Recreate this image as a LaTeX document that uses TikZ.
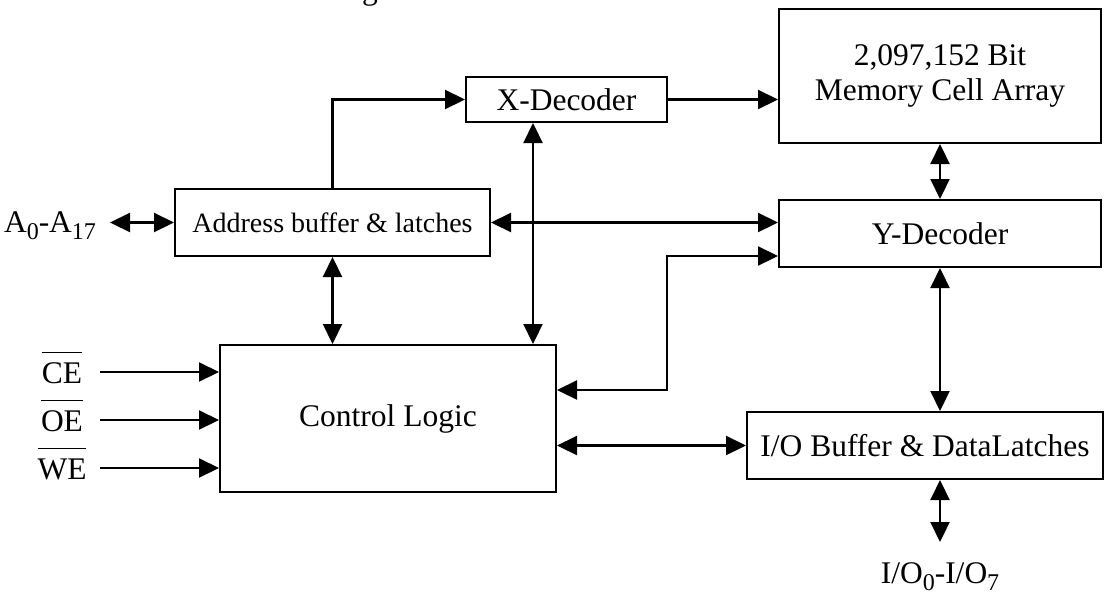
\documentclass[tikz,border=0pt]{standalone}
\usepackage{fontspec}
\setmainfont{Liberation Serif}
\usetikzlibrary{arrows.meta}
\newcommand\lowsub[1]{\raisebox{-7pt}{\fontsize{24}{24}\selectfont #1}}
\newcommand\sigbar[1]{\vbox{\hrule height 1.2pt\kern 9pt\hbox{#1}}}
\begin{document}
\begin{tikzpicture}[
  >={Triangle[length=20pt,width=19pt]},
  wire/.style={line width=2.2pt},
  blk/.style={draw, line width=2pt, align=center, inner sep=0pt,
    font=\fontsize{31.5}{35}\selectfont},
  lbl/.style={inner sep=0pt, font=\fontsize{31.5}{35}\selectfont}]

  \useasboundingbox (0pt,0pt) rectangle (1105pt,-592pt);

  % cut-off title
  \node[lbl, anchor=base] (title) at (370pt,1pt) {g};

  % blocks
  \node[blk, minimum width=315pt, minimum height=67pt, font=\fontsize{28}{33}\selectfont]
    (addr) at (332.5pt,-222.5pt) {Address buffer \& latches};
  \node[blk, minimum width=201pt, minimum height=45pt] (xdec) at (566.5pt,-99.5pt) {X-Decoder};
  \node[blk, minimum width=322pt, minimum height=134pt] (mem) at (940pt,-76pt) {2,097,152 Bit\\Memory Cell Array};
  \node[blk, minimum width=322pt, minimum height=67pt] (ydec) at (940pt,-233.5pt) {Y-Decoder};
  \node[blk, minimum width=336pt, minimum height=147pt] (ctrl) at (388pt,-418.5pt) {Control Logic};
  \node[blk, minimum width=356pt, minimum height=67pt] (io) at (925pt,-445.5pt) {I/O Buffer \& DataLatches};

  % pins
  \node[lbl, anchor=base] (apin) at (50pt,-232pt) {A\lowsub{0}-A\lowsub{17}};
  \coordinate (aend) at (110pt,-222.5pt);
  \node[lbl, anchor=base] (iopin) at (940pt,-583pt) {I/O\lowsub{0}-I/O\lowsub{7}};
  \coordinate (ioend) at (940pt,-542pt);

  \foreach \sig/\yy in {CE/372,OE/420,WE/468} {
    \node[lbl, anchor=base] (\sig) at (62pt,{-(\yy+11)*1pt}) {\sigbar{\sig}};
    \coordinate (\sig s) at (100pt,{-\yy*1pt});
    \draw[wire, ->] (\sig s) -- (\sig s -| ctrl.west); %% pin -> control
  }

  % connectors
  \coordinate (xv) at (533pt,0pt);
  \coordinate (bend) at (667pt,-256pt);
  \coordinate (cin) at (0pt,-390pt);

  \draw[wire, <->] (aend) -- (addr.west); %% A <-> address
  \draw[wire, ->] (addr.north) |- (xdec.west); %% address -> X
  \draw[wire, ->] (xdec.east) -- (xdec.east -| mem.west); %% X -> memory
  \draw[wire, <->] (xdec.south -| xv) -- (ctrl.north -| xv); %% X <-> control
  \draw[wire, <->] (addr.east) -- (addr.east -| ydec.west); %% address <-> Y
  \draw[wire, <->] (addr.south) -- (ctrl.north -| addr.south); %% address <-> control
  \draw[wire, <->] (ydec.west |- bend) -- (bend) |- (ctrl.east |- cin); %% Y <-> control
  \draw[wire, <->] (mem.south) -- (ydec.north); %% memory <-> Y
  \draw[wire, <->] (ydec.south) -- (ydec.south |- io.north); %% Y <-> I/O
  \draw[wire, <->] (ctrl.east |- io.west) -- (io.west); %% control <-> I/O
  \draw[wire, <->] (io.south -| ioend) -- (ioend); %% I/O <-> pins
\end{tikzpicture}
\end{document}
